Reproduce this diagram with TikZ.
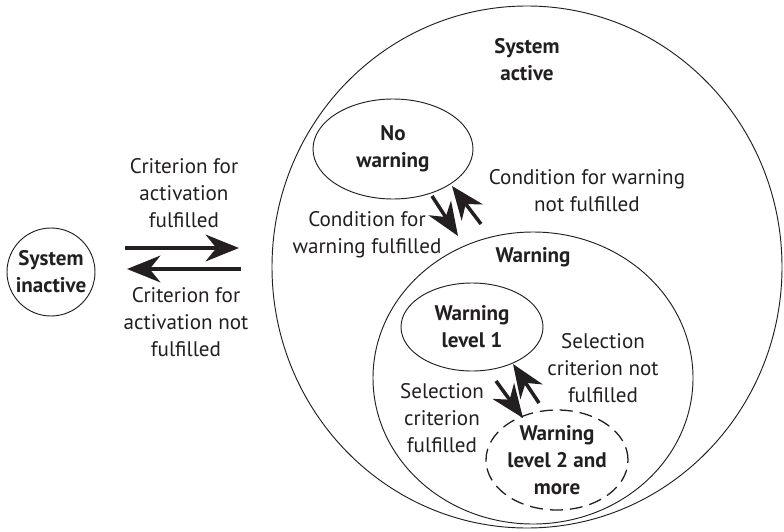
\documentclass[tikz,border=0pt]{standalone}
\usepackage{fontspec}
\setmainfont{PT Sans}
\usetikzlibrary{shapes.geometric,arrows.meta}
\definecolor{ink}{HTML}{231F20}

\def\u{0.03cm}
\tikzset{
  state/.style={ellipse,draw=ink,line width=0.8pt,inner sep=0pt,align=center,
    text=ink,font=\fontsize{18}{23}\selectfont\bfseries},
  lbl/.style={align=center,text=ink,font=\fontsize{18}{23}\selectfont},
  flow/.style={draw=ink,line width=3pt,-{Stealth[length=1cm,width=0.8cm,inset=0.32cm]}},
}

\begin{document}
\begin{tikzpicture}[x=\u,y=-\u]
\useasboundingbox (0,0) rectangle (784,531);

% states
\node[state,circle,minimum size=88*\u] (inactive) at (51,272) {System\\inactive};
\node[state,minimum width=510*\u,minimum height=522*\u] (active) at (527,267) {};
\node[lbl,font=\fontsize{18}{23}\selectfont\bfseries] (activelbl) at (527,60) {System\\active};
\node[state,minimum width=160*\u,minimum height=100*\u] (nowarn) at (393,149) {No\\warning};
\node[state,minimum width=320*\u,minimum height=292*\u] (warn) at (533,378) {};
\node[lbl,font=\fontsize{18}{23}\selectfont\bfseries] (warnlbl) at (533,257) {Warning};
\node[state,minimum width=142*\u,minimum height=88*\u] (lvlone) at (472,327) {Warning\\level 1};
\node[state,line width=1.1pt,dash pattern=on 0.39cm off 0.21cm,minimum width=142*\u,minimum height=100*\u]
  (lvltwo) at (557,460) {Warning\\level 2 and\\more};

% transition texts
\node[lbl] (critOn) at (184,193) {Criterion for\\activation\\fulfilled};
\node[lbl] (critOff) at (186,322) {Criterion for\\activation not\\fulfilled};
\node[lbl] (condOff) at (587,191) {Condition for warning\\not fulfilled};
\node[lbl] (condOn) at (367,235) {Condition for\\warning fulfilled};
\node[lbl] (selOff) at (603,368) {Selection\\criterion not\\fulfilled};
\node[lbl] (selOn) at (442,418) {Selection\\criterion\\fulfilled};

% arrow ends
\coordinate (onA) at (125,248);  \coordinate (onB) at (239,248);
\coordinate (offA) at (241,269); \coordinate (offB) at (127,269);
\coordinate (cwA) at (432,196);  \coordinate (cwB) at (458,236);
\coordinate (cnA) at (481,224);  \coordinate (cnB) at (452,186);
\coordinate (swA) at (496,381);  \coordinate (swB) at (523,418);
\coordinate (snA) at (539,403);  \coordinate (snB) at (513,364);

\draw[flow] (onA) -- (onB);
\draw[flow] (offA) -- (offB);
\draw[flow] (cwA) -- (cwB);
\draw[flow] (cnA) -- (cnB);
\draw[flow] (swA) -- (swB);
\draw[flow] (snA) -- (snB);
\end{tikzpicture}
\end{document}
